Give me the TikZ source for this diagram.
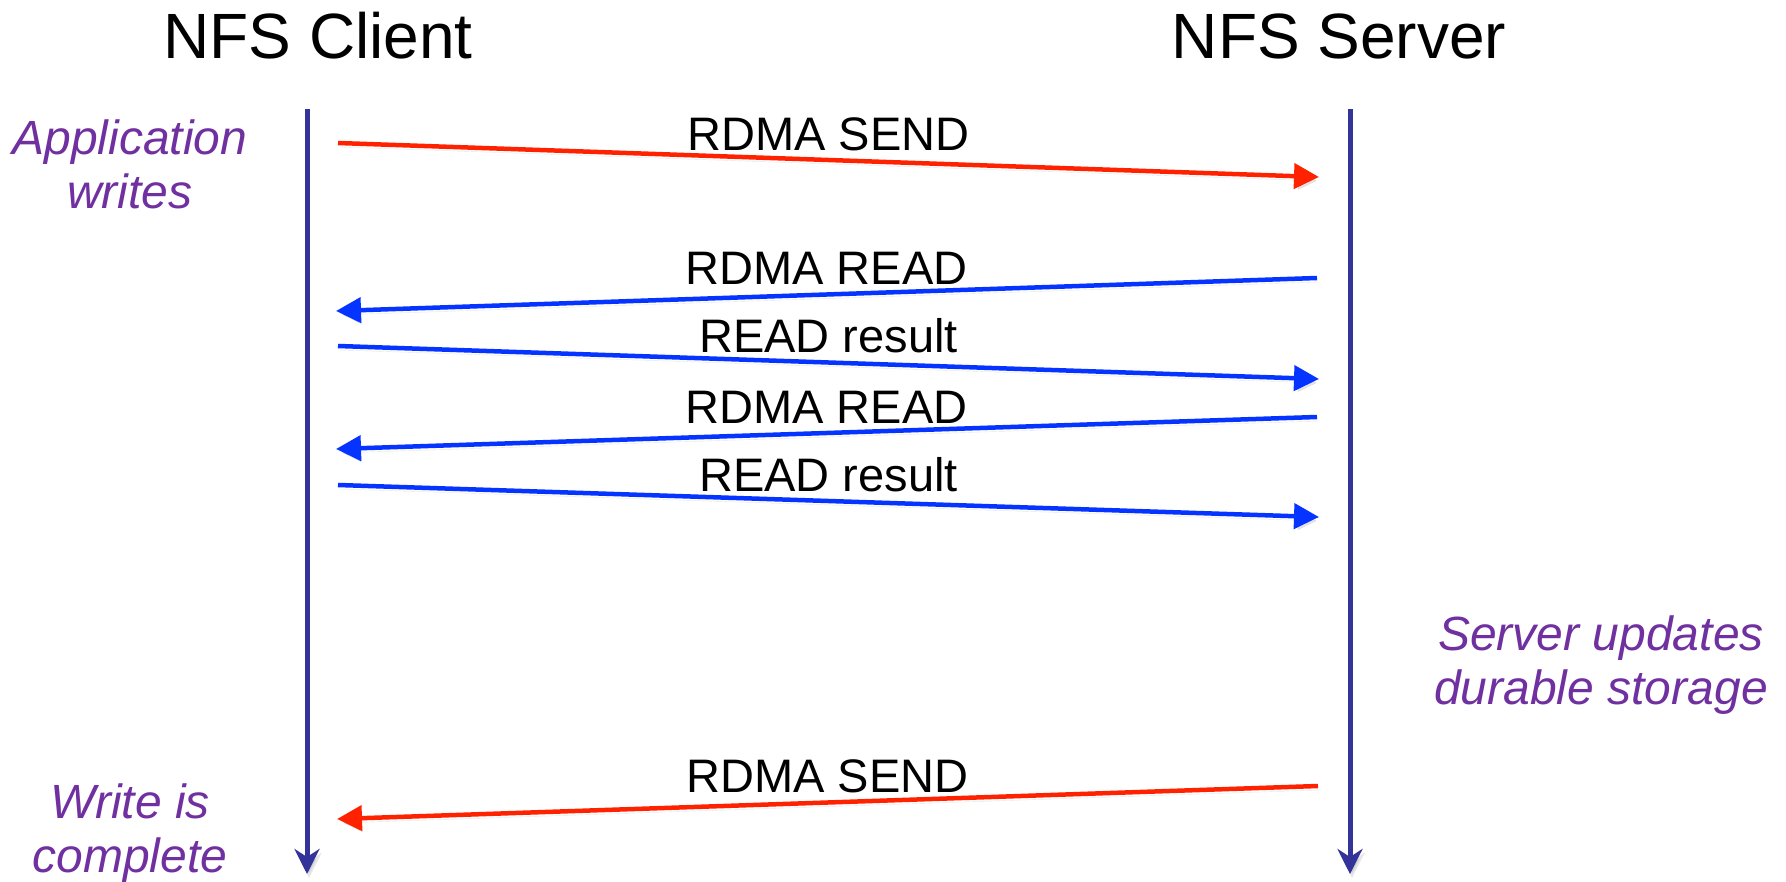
\documentclass[tikz,border=0pt]{standalone}
\usepackage{fontspec}
\setmainfont{Liberation Sans}
\usetikzlibrary{arrows.meta}
\definecolor{lifeline}{HTML}{333399}
\definecolor{sendred}{HTML}{FF2200}
\definecolor{readblue}{HTML}{0533FF}
\definecolor{notepurple}{HTML}{7030A0}
\begin{document}
\begin{tikzpicture}[x=1pt,y=-1pt,
  heading/.style={font=\fontsize{64}{70}\selectfont, anchor=base, inner sep=0pt},
  msglabel/.style={font=\fontsize{47}{52}\selectfont, anchor=base, inner sep=0pt, pos=0.5, yshift=10pt},
  note/.style={font=\fontsize{48}{54}\selectfont\itshape, text=notepurple, align=center, anchor=base, inner sep=0pt},
  softshadow/.style={preaction={draw=black!70, opacity=0.14, transform canvas={xshift=2pt,yshift=-4pt}}},
  lifelinearrow/.style={draw=lifeline, line width=5pt, softshadow,
    -{Stealth[length=25pt,width=25pt,inset=8pt]}},
  msg/.style={line width=4.5pt, softshadow, -{Triangle[length=25pt,width=25pt]}},
  sendmsg/.style={msg, draw=sendred},
  readmsg/.style={msg, draw=readblue},
]
\useasboundingbox (0,0) rectangle (1786,881);

% participants
\node[heading] (client) at (318,58) {NFS Client};
\node[heading] (server) at (1339,58) {NFS Server};

% lifelines
\coordinate (ctop) at (307,109);
\coordinate (cbot) at (307,874);
\coordinate (stop) at (1350,109);
\coordinate (sbot) at (1350,874);
\draw[lifelinearrow] (ctop) -- (cbot);
\draw[lifelinearrow] (stop) -- (sbot);

% message end points
\coordinate (m1a) at (338,143);  \coordinate (m1b) at (1319,177);
\coordinate (m2a) at (1317,278); \coordinate (m2b) at (336,311);
\coordinate (m3a) at (338,346);  \coordinate (m3b) at (1319,379);
\coordinate (m4a) at (1317,417); \coordinate (m4b) at (336,449);
\coordinate (m5a) at (338,485);  \coordinate (m5b) at (1319,517);
\coordinate (m6a) at (1318,786); \coordinate (m6b) at (337,819);

% messages
\draw[sendmsg] (m1a) -- node[msglabel] (l1) {RDMA SEND} (m1b);
\draw[readmsg] (m2a) -- node[msglabel] (l2) {RDMA READ} (m2b);
\draw[readmsg] (m3a) -- node[msglabel] (l3) {READ result} (m3b);
\draw[readmsg] (m4a) -- node[msglabel] (l4) {RDMA READ} (m4b);
\draw[readmsg] (m5a) -- node[msglabel] (l5) {READ result} (m5b);
\draw[sendmsg] (m6a) -- node[msglabel] (l6) {RDMA SEND} (m6b);

% annotations
\node[note] (appw) at (130,208) {Application\\writes};
\node[note] (upd) at (1601,704) {Server updates\\durable storage};
\node[note] (done) at (130,872) {Write is\\complete};
\end{tikzpicture}
\end{document}
